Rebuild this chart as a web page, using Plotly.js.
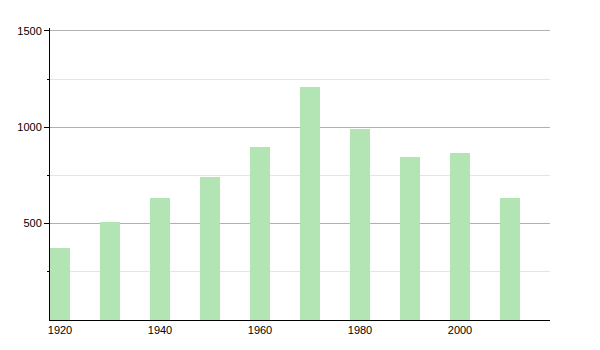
<!DOCTYPE html>
<html>
<head>
<meta charset="utf-8">
<script src="https://cdn.plot.ly/plotly-3.0.1.min.js"></script>
<style>html,body{margin:0;padding:0;background:#fff;}#chart{width:600px;height:350px;}</style>
</head>
<body>
<div id="chart"></div>
<script>
const years = [1920, 1930, 1940, 1950, 1960, 1970, 1980, 1990, 2000, 2010];
const values = [375, 508, 634, 744, 899, 1208, 991, 845, 866, 633];
const xTickVals = [1920, 1940, 1960, 1980, 2000];
const xTickText = ['1920', '1940', '1960', '1980', '2000'];
const yTickVals = [500, 1000, 1500];
const yTickText = ['500', '1000', '1500'];
const yMinorVals = [250, 750, 1250];

const trace = {
  type: 'bar',
  x: years,
  y: values,
  width: 4,
  marker: {color: '#b3e4b3', line: {width: 0}},
  hoverinfo: 'x+y'
};

const layout = {
  width: 600,
  height: 350,
  margin: {l: 50, r: 50, t: 28, b: 30},
  paper_bgcolor: '#fff',
  plot_bgcolor: '#fff',
  showlegend: false,
  bargap: 0,
  font: {family: 'Liberation Sans, Arial, sans-serif', size: 11, color: '#000'},
  xaxis: {
    range: [1918, 2018],
    tickmode: 'array',
    tickvals: xTickVals,
    ticktext: xTickText,
    showgrid: false,
    zeroline: false,
    showline: true,
    linecolor: '#000',
    linewidth: 1,
    ticks: '',
    ticklen: 0,
    tickfont: {size: 11, color: '#000'}
  },
  yaxis: {
    range: [0, 1515],
    tickmode: 'array',
    tickvals: yTickVals,
    ticktext: yTickText,
    showgrid: true,
    gridcolor: '#b0b0b0',
    gridwidth: 1,
    zeroline: false,
    showline: true,
    linecolor: '#000',
    linewidth: 1,
    ticks: 'outside',
    ticklen: 5,
    tickcolor: '#000',
    tickfont: {size: 11, color: '#000'},
    minor: {
      tickmode: 'array',
      tickvals: yMinorVals,
      ticks: 'outside',
      ticklen: 2,
      tickcolor: '#000',
      showgrid: true,
      gridcolor: '#e4e4e4',
      gridwidth: 1
    }
  }
};

Plotly.newPlot('chart', [trace], layout, {displayModeBar: false, staticPlot: true});
</script>
</body>
</html>
